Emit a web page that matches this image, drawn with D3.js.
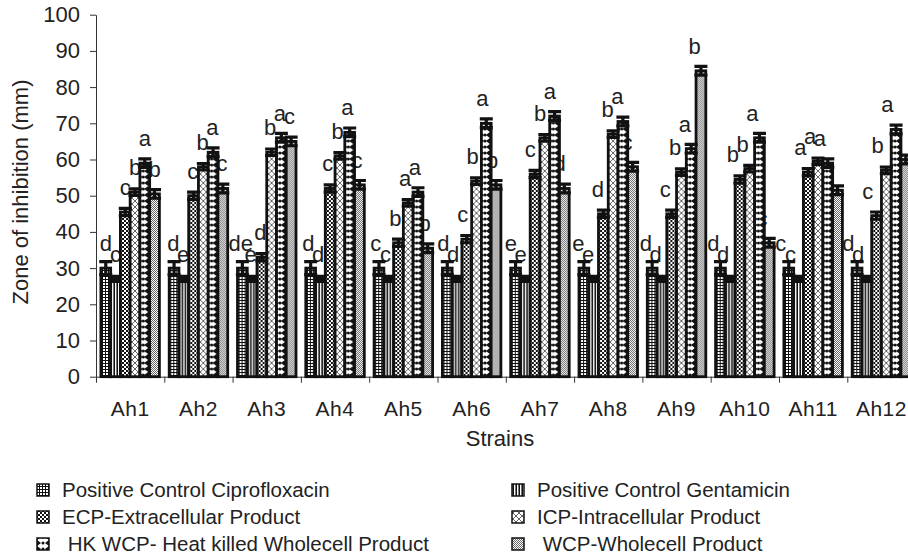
<!DOCTYPE html>
<html>
<head>
<meta charset="utf-8">
<script src="https://cdn.jsdelivr.net/npm/d3@7/dist/d3.min.js"></script>
<style>
  body { margin: 0; background: #fff; }
  svg { display: block; }
  text { font-family: "Liberation Sans", Arial, sans-serif; fill: #222; }
</style>
</head>
<body>
<div id="chart"></div>
<script>
const strains = ["Ah1", "Ah2", "Ah3", "Ah4", "Ah5", "Ah6", "Ah7", "Ah8", "Ah9", "Ah10", "Ah11", "Ah12"];
const seriesNames = [
  "Positive Control Ciprofloxacin",
  "Positive Control Gentamicin",
  "ECP-Extracellular Product",
  "ICP-Intracellular Product",
  " HK WCP- Heat killed Wholecell Product",
  " WCP-Wholecell Product"
];

// zone of inhibition (mm) per strain
const cipro = [30, 30, 30, 30, 30, 30, 30, 30, 30, 30, 30, 30];
const genta = [27, 27, 27, 27, 27, 27, 27, 27, 27, 27, 27, 27];
const ecp   = [45.5, 50, 33, 52, 37, 38, 56, 45, 45, 54.5, 56.5, 44.5];
const icp   = [51, 58, 62, 61, 48, 54, 66, 67, 56.5, 57.5, 59.5, 57];
const hkwcp = [59, 62, 66, 67.5, 51, 70, 72, 70.5, 63, 66, 59, 68.3];
const wcp   = [50.5, 52, 65, 53, 35.5, 53, 52, 58, 84.5, 37, 51.5, 60];

// +/- error per series
const errors = [1.8, 0.7, 1.0, 0.9, 1.2, 1.2];

// significance letters
const ciproLetters = ["d", "d", "de", "d", "c", "d", "e", "e", "d", "d", "c", "d"];
const gentaLetters = ["c", "e", "e", "d", "c", "d", "e", "e", "d", "d", "c", "d"];
const ecpLetters   = ["c", "c", "d", "c", "b", "c", "c", "d", "c", "b", "a", "c"];
const icpLetters   = ["b", "b", "b", "b", "a", "b", "b", "b", "b", "b", "a", "b"];
const hkLetters    = ["a", "a", "a", "a", "a", "a", "a", "a", "a", "a", "a", "a"];
const wcpLetters   = ["b", "c", "c", "c", "b", "b", "d", "c", "b", "c", "", ""];

const yTicks = [0, 10, 20, 30, 40, 50, 60, 70, 80, 90, 100];

const values = [cipro, genta, ecp, icp, hkwcp, wcp];
const letters = [ciproLetters, gentaLetters, ecpLetters, icpLetters, hkLetters, wcpLetters];

const width = 908, height = 558;
const svg = d3.select("#chart").append("svg")
  .attr("width", width).attr("height", height);

const x0 = d3.scaleBand().domain(strains).range([96, 915.6]);
const x1 = d3.scaleBand().domain(d3.range(seriesNames.length))
  .range([4.9, x0.bandwidth() - 4.9]);
const y = d3.scaleLinear().domain([0, 100]).range([376.7, 14.7]);

// patterns
const defs = svg.append("defs");
function pat(id, w, h, x) {
  return defs.append("pattern").attr("id", id)
    .attr("patternUnits", "userSpaceOnUse")
    .attr("x", x || 0).attr("width", w).attr("height", h);
}
let p = pat("p0", 3, 3);
p.append("rect").attr("width", 3).attr("height", 3).attr("fill", "#111");
p.append("rect").attr("x", 1).attr("y", 1).attr("width", 2).attr("height", 2).attr("fill", "#fff");

p = pat("p1", 3, 3);
p.append("rect").attr("width", 3).attr("height", 3).attr("fill", "#fff");
p.append("rect").attr("width", 1).attr("height", 3).attr("fill", "#111");
p.append("rect").attr("x", 2).attr("width", 1).attr("height", 3).attr("fill", "#777");

p = pat("p2", 4, 4);
p.append("rect").attr("width", 4).attr("height", 4).attr("fill", "#fff");
p.append("rect").attr("width", 2).attr("height", 2).attr("fill", "#111");
p.append("rect").attr("x", 2).attr("y", 2).attr("width", 2).attr("height", 2).attr("fill", "#111");

p = pat("p3", 6, 6);
p.append("rect").attr("width", 6).attr("height", 6).attr("fill", "#fff");
p.append("path").attr("d", "M0,0L6,6M6,0L0,6").attr("stroke", "#666").attr("stroke-width", 1);

p = pat("p5", 2, 2);
p.append("rect").attr("width", 2).attr("height", 2).attr("fill", "#fff");
p.append("rect").attr("width", 1).attr("height", 1).attr("fill", "#666");
p.append("rect").attr("x", 1).attr("y", 1).attr("width", 1).attr("height", 1).attr("fill", "#666");

// HK pattern: aligned to each bar so the side notches sit on its edges
function hkPattern(id, x0pos, w) {
  const q = pat(id, w, 6, x0pos);
  q.append("rect").attr("width", w).attr("height", 6).attr("fill", "#fff");
  q.append("path").attr("d", `M0,0L4,3L0,6ZM${w},0L${w - 4},3L${w},6Z`).attr("fill", "#111");
  q.append("circle").attr("cx", w / 2).attr("cy", 3).attr("r", 1.5).attr("fill", "#111");
}
strains.forEach((s, i) => hkPattern("hk" + i, x0(s) + x1(4), x1.bandwidth()));

function fillFor(si, gi) {
  return si === 4 ? `url(#hk${gi})` : `url(#p${si})`;
}

const font = '"Liberation Sans", Arial, sans-serif';

// y axis
const yAxis = svg.append("g").attr("transform", "translate(96,0)")
  .call(d3.axisLeft(y).tickValues(yTicks).tickSize(6).tickSizeOuter(0).tickPadding(10));
yAxis.selectAll("text").attr("font-size", 22).attr("fill", "#222").style("font-family", font);
yAxis.selectAll("line, path").attr("stroke", "#333");

// x axis: labels, then boundary ticks
const xAxis = svg.append("g").attr("transform", `translate(0,${y(0)})`)
  .call(d3.axisBottom(x0).tickSize(0).tickPadding(24));
xAxis.select(".domain").attr("stroke", "#333");
xAxis.selectAll("text").attr("font-size", 21).attr("fill", "#222")
  .style("font-family", font).style("letter-spacing", "0.5px");
const bounds = d3.scaleLinear().domain([0, strains.length]).range(x0.range());
svg.append("g").attr("transform", `translate(0,${y(0)})`)
  .call(d3.axisBottom(bounds).ticks(strains.length).tickSize(6).tickFormat(""))
  .call(g => g.select(".domain").remove())
  .selectAll("line").attr("stroke", "#333");

// letters (drawn under the bars, as in the original)
strains.forEach((s, gi) => {
  values.forEach((arr, si) => {
    svg.append("text")
      .attr("x", x0(s) + x1(si) + x1.bandwidth() / 2 - gi * 0.8)
      .attr("y", y(arr[gi]) - 17)
      .attr("text-anchor", "middle")
      .attr("font-size", 22)
      .text(letters[si][gi]);
  });
});

// bars
strains.forEach((s, gi) => {
  const g = svg.append("g").attr("transform", `translate(${x0(s)},0)`);
  values.forEach((arr, si) => {
    g.append("rect")
      .attr("x", x1(si)).attr("width", x1.bandwidth())
      .attr("y", y(arr[gi])).attr("height", y(0) - y(arr[gi]))
      .attr("fill", fillFor(si, gi))
      .attr("stroke", "#111").attr("stroke-width", 2.8);
  });
});

// error bars
strains.forEach((s, gi) => {
  values.forEach((arr, si) => {
    const cx = x0(s) + x1(si) + x1.bandwidth() / 2;
    const hi = y(arr[gi] + errors[si]), lo = y(arr[gi] - errors[si]);
    const cap = 6.5;
    svg.append("path")
      .attr("d", `M${cx},${hi}L${cx},${lo}M${cx - cap},${hi}L${cx + cap},${hi}M${cx - cap},${lo}L${cx + cap},${lo}`)
      .attr("stroke", "#111").attr("stroke-width", 3.2).attr("fill", "none");
  });
});

// axis titles
svg.append("text")
  .attr("transform", "translate(28,192) rotate(-90)")
  .attr("text-anchor", "middle").attr("font-size", 22)
  .text("Zone of inhibition (mm)");
svg.append("text")
  .attr("x", 500).attr("y", 446)
  .attr("text-anchor", "middle").attr("font-size", 22)
  .text("Strains");

// legend: two columns, row-major
const legX = [37, 512], legY = [497, 524, 551];
seriesNames.forEach((name, i) => {
  const col = i % 2, row = Math.floor(i / 2);
  const sx = legX[col], sy = legY[row] - 13;
  if (i === 4) hkPattern("hkLeg", sx, 12);
  svg.append("rect")
    .attr("x", sx).attr("y", sy).attr("width", 12).attr("height", 12)
    .attr("fill", i === 4 ? "url(#hkLeg)" : `url(#p${i})`)
    .attr("stroke", "#111").attr("stroke-width", 1.5);
  svg.append("text")
    .attr("x", sx + 25).attr("y", legY[row])
    .attr("font-size", 20.5)
    .style("white-space", "pre")
    .text(name);
});
</script>
</body>
</html>
